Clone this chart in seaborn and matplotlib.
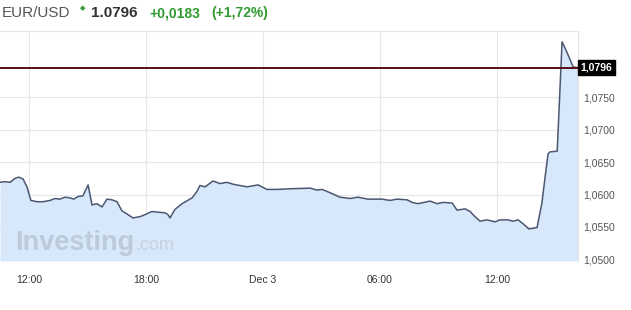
import matplotlib
matplotlib.use("Agg")
import matplotlib.pyplot as plt
import matplotlib.transforms as mtransforms
import seaborn as sns
import pandas as pd

# ---- data ----
times = [
    "2019-12-02 10:31", "2019-12-02 10:46", "2019-12-02 11:02", "2019-12-02 11:17",
    "2019-12-02 11:29", "2019-12-02 11:42", "2019-12-02 11:54", "2019-12-02 12:06",
    "2019-12-02 12:25", "2019-12-02 12:43", "2019-12-02 13:05", "2019-12-02 13:20",
    "2019-12-02 13:35", "2019-12-02 13:51", "2019-12-02 14:06", "2019-12-02 14:18",
    "2019-12-02 14:31", "2019-12-02 14:46", "2019-12-02 15:02", "2019-12-02 15:14",
    "2019-12-02 15:29", "2019-12-02 15:45", "2019-12-02 16:00", "2019-12-02 16:15",
    "2019-12-02 16:31", "2019-12-02 16:46", "2019-12-02 17:02", "2019-12-02 17:20",
    "2019-12-02 17:42", "2019-12-02 17:57", "2019-12-02 18:18", "2019-12-02 18:34",
    "2019-12-02 18:58", "2019-12-02 19:08", "2019-12-02 19:14", "2019-12-02 19:29",
    "2019-12-02 19:51", "2019-12-02 20:22", "2019-12-02 20:37", "2019-12-02 20:46",
    "2019-12-02 21:02", "2019-12-02 21:26", "2019-12-02 21:48", "2019-12-02 22:09",
    "2019-12-02 22:28", "2019-12-02 23:11", "2019-12-02 23:45", "2019-12-03 00:12",
    "2019-12-03 00:43", "2019-12-03 01:23", "2019-12-03 02:25", "2019-12-03 02:46",
    "2019-12-03 03:02", "2019-12-03 03:26", "2019-12-03 03:57", "2019-12-03 04:28",
    "2019-12-03 04:52", "2019-12-03 05:23", "2019-12-03 06:06", "2019-12-03 06:31",
    "2019-12-03 06:52", "2019-12-03 07:23", "2019-12-03 07:39", "2019-12-03 07:57",
    "2019-12-03 08:34", "2019-12-03 08:55", "2019-12-03 09:14", "2019-12-03 09:42",
    "2019-12-03 09:57", "2019-12-03 10:22", "2019-12-03 10:37", "2019-12-03 10:52",
    "2019-12-03 11:08", "2019-12-03 11:29", "2019-12-03 11:54", "2019-12-03 12:09",
    "2019-12-03 12:34", "2019-12-03 12:49", "2019-12-03 13:05", "2019-12-03 13:20",
    "2019-12-03 13:38", "2019-12-03 14:03", "2019-12-03 14:18", "2019-12-03 14:28",
    "2019-12-03 14:37", "2019-12-03 14:43", "2019-12-03 15:05", "2019-12-03 15:08",
    "2019-12-03 15:20", "2019-12-03 15:32", "2019-12-03 15:45", "2019-12-03 15:54",
    "2019-12-03 16:09",
]
prices = [
    1.0619, 1.0620, 1.0619, 1.0625, 1.0627, 1.0624, 1.0612, 1.0591,
    1.0589, 1.0589, 1.0591, 1.0594, 1.0593, 1.0596, 1.0595, 1.0593,
    1.0597, 1.0598, 1.0615, 1.0584, 1.0586, 1.0581, 1.0593, 1.0592,
    1.0589, 1.0575, 1.0570, 1.0564, 1.0566, 1.0569, 1.0574, 1.0573,
    1.0572, 1.0569, 1.0564, 1.0577, 1.0586, 1.0595, 1.0605, 1.0614,
    1.0612, 1.0621, 1.0617, 1.0619, 1.0616, 1.0612, 1.0615, 1.0608,
    1.0608, 1.0609, 1.0610, 1.0607, 1.0608, 1.0603, 1.0596, 1.0594,
    1.0596, 1.0593, 1.0593, 1.0591, 1.0593, 1.0592, 1.0588, 1.0586,
    1.0590, 1.0586, 1.0588, 1.0587, 1.0576, 1.0578, 1.0574, 1.0566,
    1.0559, 1.0561, 1.0558, 1.0561, 1.0561, 1.0559, 1.0561, 1.0555,
    1.0547, 1.0549, 1.0587, 1.0628, 1.0663, 1.0666, 1.0667, 1.0700,
    1.0836, 1.0823, 1.0808, 1.0797, 1.0796,
]
last_price = 1.0796
y_ticks = [1.0500, 1.0550, 1.0600, 1.0650, 1.0700, 1.0750]
y_tick_labels = ["1,0500", "1,0550", "1,0600", "1,0650", "1,0700", "1,0750"]
x_ticks = ["2019-12-02 12:00", "2019-12-02 18:00", "2019-12-03 00:00",
           "2019-12-03 06:00", "2019-12-03 12:00"]
x_tick_labels = ["12:00", "18:00", "Dec 3", "06:00", "12:00"]
header_symbol = "EUR/USD"
header_price = "1.0796"
header_change = "+0,0183"
header_pct = "(+1,72%)"

df = pd.DataFrame({"time": pd.to_datetime(times), "price": prices})

sns.set_theme(style="white")
plt.rcParams["font.family"] = ["Liberation Sans", "DejaVu Sans"]

W, H = 631, 310
fig = plt.figure(figsize=(W / 100, H / 100), dpi=100)
fig.patch.set_facecolor("white")
ax = fig.add_axes([0 / W, (H - 261) / H, 578 / W, (261 - 31) / H])
ax.set_facecolor("white")

ymin, ymax = 1.04975, 1.08526
xmin = pd.Timestamp("2019-12-02 10:31")
xmax = pd.Timestamp("2019-12-03 16:09")

ax.fill_between(df["time"], df["price"], ymin, color="#d7e8fb", lw=0, zorder=1)
sns.lineplot(data=df, x="time", y="price", ax=ax, color="#4b5672", lw=1.1,
             zorder=3)

ax.set_xlim(xmin, xmax)
ax.set_ylim(ymin, ymax)

# grid
for yt in y_ticks:
    ax.axhline(yt, color="#e6e6e6", lw=0.8, zorder=0.5)
for xt in x_ticks:
    ax.axvline(pd.Timestamp(xt), color="#e6e6e6", lw=0.8, zorder=0.5)
ax.grid(False)

ax.set_xticks(pd.to_datetime(x_ticks))
ax.set_xticklabels(x_tick_labels, fontsize=7.5, color="#333333")
ax.set_yticks(y_ticks)
ax.set_yticklabels(y_tick_labels, fontsize=7.5, color="#555555")
ax.yaxis.tick_right()
ax.tick_params(axis="y", length=0, pad=4)
ax.tick_params(axis="x", length=0, pad=10)
ax.set_xlabel("")
ax.set_ylabel("")
for side, sp in ax.spines.items():
    sp.set_color("#e3e3e3")
    sp.set_linewidth(0.8)
ax.spines["left"].set_visible(False)
ax.spines["bottom"].set_visible(False)

# last price line and label
ax.axhline(last_price, color="#5a0d12", lw=1.4, zorder=4)
trans = mtransforms.blended_transform_factory(ax.transAxes, ax.transData)
ax.text(1.004, last_price, "1,0796", transform=trans, ha="left", va="center",
        fontsize=7.5, color="white", fontweight="bold",
        bbox=dict(boxstyle="square,pad=0.25", fc="black", ec="black"),
        clip_on=False, zorder=6)

# watermark
ax.text(15 / 578, (261 - 250) / 230, "Investing", transform=ax.transAxes,
        fontsize=19.5, fontweight="bold", color="#bccbdb", ha="left",
        va="baseline", zorder=2)
ax.text(135 / 578, (261 - 250) / 230, ".com", transform=ax.transAxes,
        fontsize=13, color="#c6d3e1", ha="left", va="baseline", zorder=2)

# header
green = "#2f9a2f"
yh = 1 - 13 / H
fig.text(2 / W, yh, header_symbol, fontsize=11, color="#555555",
         ha="left", va="center")
fig.text(80 / W, 1 - 8 / H, "◆", fontsize=5, color=green, ha="left",
         va="center", family=["DejaVu Sans"])
fig.text(91 / W, yh, header_price, fontsize=11, fontweight="bold",
         color="#333333", ha="left", va="center")
fig.text(149 / W, yh, header_change, fontsize=10, fontweight="bold",
         color=green, ha="left", va="center")
fig.text(211 / W, yh, header_pct, fontsize=10, fontweight="bold",
         color=green, ha="left", va="center")

fig.savefig("out.png", dpi=100, facecolor="white")
